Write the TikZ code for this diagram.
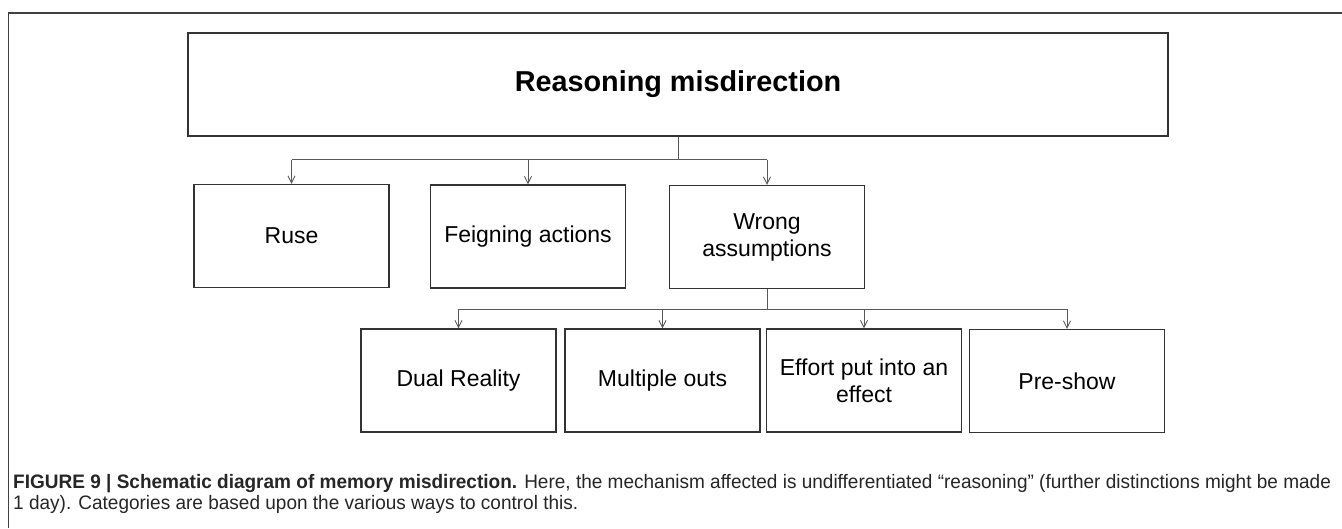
\documentclass[tikz,border=0pt]{standalone}
\usepackage{fontspec}
\setmainfont{Liberation Sans}
\newfontfamily\capfont[FakeStretch=0.975]{Liberation Sans}
\usetikzlibrary{arrows.meta}
\begin{document}
\begin{tikzpicture}[x=1pt,y=-1pt,
  box/.style={draw=black!80, line width=1.3pt, minimum width=195pt,
    minimum height=103pt, inner sep=0pt, align=center,
    font=\fontsize{23}{27}\selectfont},
  link/.style={draw=black!65, line width=0.9pt},
  tip/.style={link, -{Straight Barb[length=7pt,width=7pt]}},
  frame/.style={draw=black!75, line width=1.2pt},
  captext/.style={anchor=base west, inner sep=0pt,
    font=\capfont\fontsize{19.5}{24}\selectfont, text=black!85}]
\useasboundingbox (0,0) rectangle (1342,528);

% figure frame (top and left rules)
\draw[frame] (8.5,528) -- (8.5,13) -- (1342,13);

% root
\node[box, minimum width=980pt, font=\bfseries\fontsize{28.8}{32}\selectfont]
  (top) at (678,84.5) {Reasoning misdirection};

% second level
\node[box] (ruse)  at (291.5,236) {Ruse};
\node[box] (feign) at (528,236.5) {Feigning actions};
\node[box] (wrong) at (767,237) {Wrong\\assumptions};

% third level
\node[box] (dual)  at (458.5,380.5) {Dual Reality};
\node[box] (multi) at (662.5,380.5) {Multiple outs};
\node[box] (effort) at (864,380.5) {Effort put into an\\effect};
\node[box] (pre)   at (1067,381) {Pre-show};

% connectors, root to second level
\path (top.south) ++(0,23) coordinate (bus1);
\draw[link] (top.south) -- (bus1);
\draw[link] (ruse.north |- bus1) -- (wrong.north |- bus1);
\foreach \n in {ruse,feign,wrong}
  \draw[tip] (\n.north |- bus1) -- (\n.north);

% connectors, wrong assumptions to third level
\path (wrong.south) ++(0,20) coordinate (bus2);
\draw[link] (wrong.south) -- (bus2);
\draw[link] (dual.north |- bus2) -- (pre.north |- bus2);
\foreach \n in {dual,multi,effort,pre}
  \draw[tip] (\n.north |- bus2) -- (\n.north);

% caption
\node[captext] (cap1) at (13,488) {\textbf{FIGURE 9 | Schematic diagram of memory misdirection.} Here, the mechanism affected is undifferentiated “reasoning” (further distinctions might be made};
\node[captext] (cap2) at (13,509) {1 day). Categories are based upon the various ways to control this.};
\end{tikzpicture}
\end{document}
